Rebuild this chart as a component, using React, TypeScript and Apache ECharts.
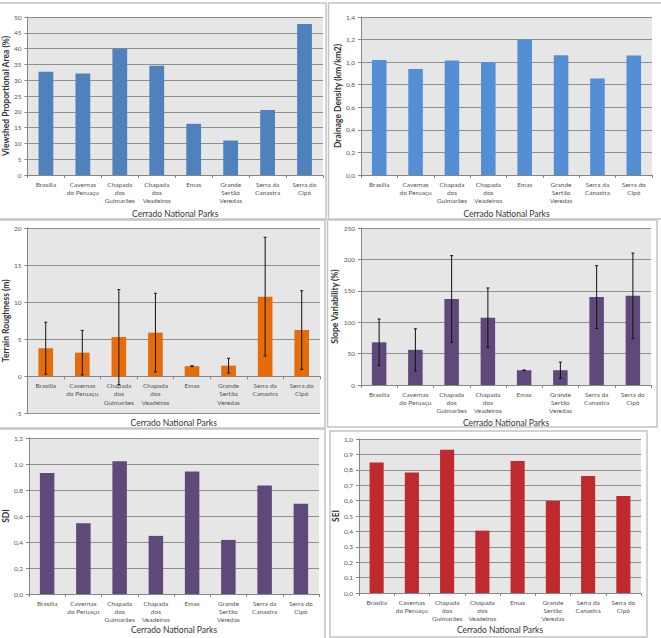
import React, { useEffect, useRef } from "react";
import * as echarts from "echarts";

// Cerrado national parks (category axis labels, wrapped as printed)
const parks = [
  "Brasília",
  "Cavernas\ndo Peruaçu",
  "Chapada\ndos\nGuimarães",
  "Chapada\ndos\nVeadeiros",
  "Emas",
  "Grande\nSertão\nVeredas",
  "Serra da\nCanastra",
  "Serra do\nCipó",
];

// Metric values per park
const viewshedArea = [32.7, 32.1, 40.0, 34.6, 16.2, 10.9, 20.6, 47.8];
const drainageDensity = [1.02, 0.94, 1.015, 1.0, 1.2, 1.062, 0.855, 1.059];
const terrainRoughness = [3.8, 3.2, 5.3, 5.9, 1.38, 1.45, 10.75, 6.25];
const terrainRoughnessSd = [3.5, 3.0, 6.4, 5.3, 0.05, 1.0, 8.0, 5.3];
const slopeVariability = [68, 56, 137, 107, 23.5, 23.5, 140, 142];
const slopeVariabilitySd = [37, 33.5, 69, 47.5, 0.4, 13, 50, 68];
const sdi = [0.93, 0.545, 1.022, 0.447, 0.943, 0.416, 0.834, 0.694];
const sei = [0.848, 0.783, 0.931, 0.405, 0.857, 0.597, 0.76, 0.63];

const xTitle = "Cerrado National Parks";
const FONT = "Lato, 'Open Sans', sans-serif";

type Panel = {
  values: number[];
  sd?: number[];
  color: string;
  yName: string;
  min: number;
  max: number;
  interval: number;
  decimals: number;
  grid: { left: number; top: number; width: number; height: number };
  xGap: number;
  yGap: number;
};

const panels: Panel[] = [
  {
    values: viewshedArea, color: "#4f81bd", yName: "Viewshed Proportional Area (%)",
    min: 0, max: 50, interval: 5, decimals: 0,
    grid: { left: 27, top: 17, width: 296, height: 158 }, xGap: 34, yGap: 16,
  },
  {
    values: drainageDensity, color: "#548fd6", yName: "Drainage Density (km/km2)",
    min: 0, max: 1.4, interval: 0.2, decimals: 1,
    grid: { left: 361, top: 17, width: 291, height: 158 }, xGap: 34, yGap: 16,
  },
  {
    values: terrainRoughness, sd: terrainRoughnessSd, color: "#e46c0a", yName: "Terrain Roughness (m)",
    min: -5, max: 20, interval: 5, decimals: 0,
    grid: { left: 26, top: 228, width: 294, height: 185.5 }, xGap: 42, yGap: 15,
  },
  {
    values: slopeVariability, sd: slopeVariabilitySd, color: "#5f497a", yName: "Slope Variability (%)",
    min: 0, max: 250, interval: 50, decimals: 0,
    grid: { left: 361, top: 228, width: 290, height: 157 }, xGap: 33, yGap: 18,
  },
  {
    values: sdi, color: "#5f497a", yName: "SDI",
    min: 0, max: 1.2, interval: 0.2, decimals: 1,
    grid: { left: 29, top: 438, width: 290, height: 156 }, xGap: 31, yGap: 16,
  },
  {
    values: sei, color: "#bf2a2f", yName: "SEI",
    min: 0, max: 1.0, interval: 0.1, decimals: 1,
    grid: { left: 359, top: 439, width: 282, height: 154 }, xGap: 32, yGap: 18,
  },
];

// Panel frames around each chart
const frames = [
  { x: -1, y: 3, width: 327, height: 216 },
  { x: 328.5, y: 3, width: 336, height: 216 },
  { x: -1, y: 220, width: 326, height: 208 },
  { x: 327.5, y: 220, width: 329.5, height: 207 },
  { x: -1, y: 429, width: 326, height: 212 },
  { x: 330, y: 431, width: 317, height: 206 },
];

function buildOption() {
  const grid: any[] = [];
  const xAxis: any[] = [];
  const yAxis: any[] = [];
  const series: any[] = [];

  panels.forEach((p, i) => {
    grid.push({ ...p.grid, containLabel: false, show: true, backgroundColor: "#e6e6e6", borderWidth: 0 });
    // category axis sits on the zero line of the value axis
    const zeroOffset = p.min < 0 ? -p.grid.height * (0 - p.min) / (p.max - p.min) : 0;
    xAxis.push({
      type: "category",
      gridIndex: i,
      data: parks,
      position: "bottom",
      offset: zeroOffset,
      name: xTitle,
      nameLocation: "middle",
      nameGap: p.xGap,
      nameTextStyle: { fontFamily: FONT, fontSize: 8.5, color: "#333" },
      axisLine: { onZero: false, lineStyle: { color: "#868686", width: 1 } },
      axisTick: { show: true, length: 3, alignWithLabel: false, lineStyle: { color: "#868686" } },
      axisLabel: {
        fontFamily: FONT, fontSize: 6.5, color: "#555", lineHeight: 8.3, margin: 5, interval: 0,
      },
      splitLine: { show: false },
    });
    yAxis.push({
      type: "value",
      gridIndex: i,
      min: p.min,
      max: p.max,
      interval: p.interval,
      name: p.yName,
      nameLocation: "middle",
      nameGap: p.yGap,
      nameTextStyle: { fontFamily: FONT, fontSize: 8.5, fontWeight: "bold", color: "#333" },
      axisLine: { show: true, lineStyle: { color: "#868686", width: 1 } },
      axisTick: { show: true, length: 3, lineStyle: { color: "#868686" } },
      axisLabel: {
        fontFamily: FONT, fontSize: 6.5, color: "#555", margin: 6,
        formatter: (v: number) => v.toFixed(p.decimals).replace(".", ","),
      },
      splitLine: { show: true, lineStyle: { color: "#8f8f8f", width: 1 } },
    });
    series.push({
      type: "bar",
      xAxisIndex: i,
      yAxisIndex: i,
      data: p.values,
      barWidth: "40%",
      itemStyle: { color: p.color },
    });
    if (p.sd) {
      const sd = p.sd;
      series.push({
        type: "custom",
        xAxisIndex: i,
        yAxisIndex: i,
        z: 5,
        clip: false,
        data: p.values.map((v, k) => [k, v, sd[k]]),
        renderItem: (_params: any, api: any) => {
          const k = api.value(0);
          const m = api.value(1);
          const e = api.value(2);
          const hi = api.coord([k, m + e]);
          const lo = api.coord([k, m - e]);
          const cap = 1.5;
          const style = { stroke: "#111", lineWidth: 1 };
          return {
            type: "group",
            children: [
              { type: "line", shape: { x1: hi[0], y1: hi[1], x2: lo[0], y2: lo[1] }, style },
              { type: "line", shape: { x1: hi[0] - cap, y1: hi[1], x2: hi[0] + cap, y2: hi[1] }, style },
              { type: "line", shape: { x1: lo[0] - cap, y1: lo[1], x2: lo[0] + cap, y2: lo[1] }, style },
            ],
          };
        },
      });
    }
  });

  const graphic = frames.map((f) => ({
    type: "rect",
    shape: { x: f.x, y: f.y, width: f.width, height: f.height },
    style: { fill: "none", stroke: "#c4c4c4", lineWidth: 1.5 },
    silent: true,
    z: 0,
  }));

  return {
    animation: false,
    backgroundColor: "#ffffff",
    textStyle: { fontFamily: FONT },
    grid,
    xAxis,
    yAxis,
    series,
    graphic,
  };
}

export default function App() {
  const ref = useRef<HTMLDivElement>(null);
  useEffect(() => {
    if (!ref.current) return;
    const chart = echarts.init(ref.current, undefined, { renderer: "svg" });
    chart.setOption(buildOption() as any);
    return () => chart.dispose();
  }, []);
  return (
    <div
      ref={ref}
      style={{ position: "absolute", left: 0, top: 0, width: 661, height: 638 }}
    />
  );
}
